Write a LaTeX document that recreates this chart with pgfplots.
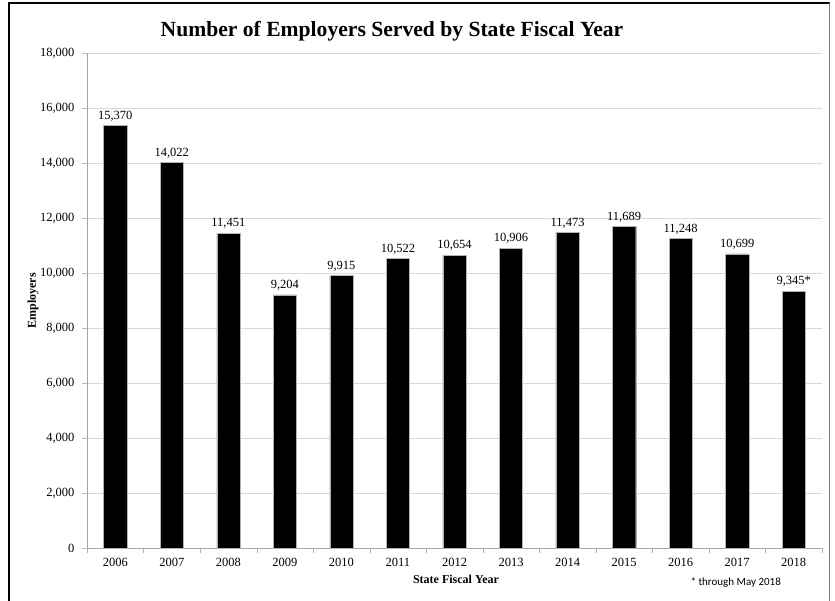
\documentclass[border=0pt]{standalone}
\usepackage{pgfplots}
\pgfplotsset{compat=1.18}
\usepackage{pgfplotstable}
\usepackage{fontspec}
\setmainfont{Liberation Serif}
\newfontfamily\calib{Carlito}
\pgfplotstableread{
x y label
0 15370 {15,370}
1 14022 {14,022}
2 11451 {11,451}
3 9204 {9,204}
4 9915 {9,915}
5 10522 {10,522}
6 10654 {10,654}
7 10906 {10,906}
8 11473 {11,473}
9 11689 {11,689}
10 11248 {11,248}
11 10699 {10,699}
12 9345 {9,345*}
}\datatable
\begin{document}
\begin{tikzpicture}
\useasboundingbox (0pt,0pt) rectangle (835pt,601pt);
\draw[line width=2pt] (9pt,0pt) -- (9pt,598pt);
\draw[line width=1.6pt] (8pt,598pt) -- (830pt,598pt);
\draw[line width=1pt, gray] (829pt,598pt) -- (829pt,0pt);
\begin{axis}[
  at={(87pt,53pt)}, anchor=south west,
  scale only axis, width=735pt, height=495pt,
  xmin=-0.5, xmax=12.5, ymin=0, ymax=18000,
  ytick distance=2000,
  xtick={0,...,12},
  xticklabels={2006,2007,2008,2009,2010,2011,2012,2013,2014,2015,2016,2017,2018},
  minor xtick={-0.5,0.5,...,12.5},
  major x tick style={draw=none},
  minor x tick style={draw=gray!60},
  minor tick length=5pt,
  major tick length=5pt,
  tick align=outside,
  ytick style={draw=gray!50},
  axis x line*=bottom, axis y line*=left,
  x axis line style={draw=gray!70,-},
  y axis line style={draw=gray!70,-},
  ymajorgrids, grid style={draw=gray!30, line width=0.8pt},
  /pgf/number format/assume math mode=true,
  /pgf/number format/1000 sep={,},
  scaled y ticks=false,
  ticklabel style={font=\fontsize{12.5}{14}\selectfont},
  yticklabel style={xshift=-4pt},
  xticklabel style={yshift=-2pt},
  clip=false,
]
\addplot[ybar, bar width=0.41, fill=black, draw=gray!60, line width=0.4pt,
  point meta=explicit symbolic,
  nodes near coords,
  nodes near coords style={font=\fontsize{12.5}{14}\selectfont, black, inner sep=4pt},
] table[x=x, y=y, meta=label] {\datatable};
\end{axis}
\node[font=\bfseries\fontsize{21.6}{24}\selectfont] at (392pt,570pt) {Number of Employers Served by State Fiscal Year};
\node[font=\bfseries\fontsize{12}{14}\selectfont] at (456pt,22pt) {State Fiscal Year};
\node[font=\bfseries\fontsize{12}{14}\selectfont, rotate=90] at (33pt,300pt) {Employers};
\node[font=\calib\fontsize{11}{13}\selectfont, anchor=west] at (687pt,18pt) {* through May 2018};
\end{tikzpicture}
\end{document}
